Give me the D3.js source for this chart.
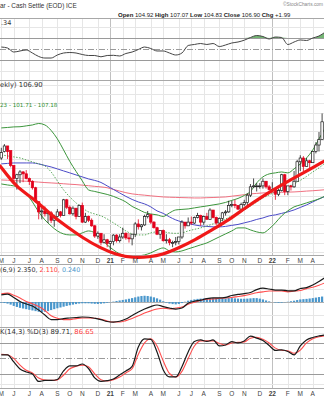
<!DOCTYPE html>
<html>
<head>
<meta charset="utf-8">
<script src="https://cdn.jsdelivr.net/npm/d3@7/dist/d3.min.js"></script>
<style>
html,body{margin:0;padding:0;background:#fff;overflow:hidden}
svg{display:block}
text{font-family:"Liberation Sans",Arial,sans-serif}
.lg{font-family:"DejaVu Sans",Verdana,sans-serif}
</style>
</head>
<body>
<svg id="chart" width="324" height="400"></svg>
<script>
// ---------------- DATA ----------------
const firstWeek = "2020-05-04";          // Monday of first weekly bar
const monthLetters = ["J","F","M","A","M","J","J","A","S","O","N","D"];
const sampleStep = 2;                    // indicator series are read every 2 weeks

const openP  = [99.1,99.8,100.4,99.9,98.3,96.9,97.3,97.6,97.4,96.9,96.6,95.9,94.4,93.3,93.4,93.1,93.2,92.4,92.8,93.3,92.9,94.6,93.8,93.1,93.7,92.8,94.0,92.2,92.8,92.4,91.8,90.7,91.0,90.0,90.3,89.9,90.1,90.8,90.2,90.6,91.0,90.5,90.4,90.9,92.0,91.7,91.9,92.8,93.0,92.2,91.6,90.9,91.3,90.2,90.3,90.0,90.0,90.1,90.6,92.2,91.8,92.2,92.1,92.7,92.9,92.2,92.8,92.5,93.5,92.7,92.1,92.6,93.2,93.3,94.0,94.1,94.0,93.6,94.1,94.3,95.1,96.0,96.1,96.1,96.1,96.6,96.0,95.7,95.7,95.2,95.6,97.3,95.5,96.1,96.0,96.6,98.7,99.1,98.2,98.8,98.6,99.8,100.5,101.1];
const highP  = [100.2,100.6,100.4,99.9,98.3,97.4,97.8,97.7,97.8,97.0,96.7,96.0,94.4,93.9,93.9,93.3,93.4,93.0,93.6,93.4,94.7,94.7,94.0,93.9,93.7,94.1,94.3,93.2,92.9,92.6,91.9,91.2,91.0,90.9,90.4,90.2,90.9,90.9,90.9,91.6,91.1,91.0,90.9,92.2,92.5,92.0,93.0,93.4,93.0,92.3,91.7,91.3,91.4,90.9,90.5,90.2,90.6,90.6,92.4,92.2,92.7,92.8,92.8,93.2,93.0,92.9,93.2,93.7,93.5,92.8,92.7,93.3,93.5,94.5,94.5,94.6,94.0,94.3,94.6,95.3,96.3,96.9,96.4,96.4,96.9,96.6,96.2,96.5,95.8,95.8,97.4,97.4,96.1,96.2,97.7,98.9,99.4,99.3,99.1,98.9,99.8,100.8,101.9,103.9];
const lowP   = [98.9,99.7,99.0,98.1,96.4,95.7,96.4,96.5,96.8,96.2,95.7,94.3,92.5,92.5,92.8,92.1,92.1,91.7,92.7,92.7,92.9,93.6,93.0,92.9,92.5,92.8,92.1,92.1,92.2,91.7,90.5,90.4,89.7,89.9,89.5,89.2,89.7,90.0,90.0,90.4,90.3,90.0,89.7,90.6,91.4,91.3,91.8,92.6,92.0,91.5,90.8,90.4,90.1,89.9,89.7,89.5,89.7,89.8,90.4,91.5,91.8,91.9,92.0,92.6,91.8,91.9,92.5,92.5,92.6,91.9,92.0,92.3,92.9,93.2,93.8,93.7,93.5,93.3,93.9,93.9,94.9,95.9,95.5,95.8,95.8,95.8,95.6,95.7,94.6,95.0,95.5,95.1,95.1,95.6,95.9,96.6,97.7,97.7,98.2,97.7,98.6,99.6,99.8,101.1];
const closeP = [99.7,100.4,99.8,98.3,96.9,97.3,97.6,97.4,96.9,96.6,95.9,94.4,93.3,93.4,93.1,93.2,92.4,92.8,93.3,92.9,94.6,93.8,93.1,93.7,92.8,94.0,92.2,92.8,92.4,91.8,90.7,91.0,90.0,90.3,89.9,90.1,90.8,90.2,90.6,91.0,90.5,90.4,90.9,92.0,91.7,91.9,92.8,93.0,92.2,91.6,90.9,91.3,90.2,90.3,90.0,90.0,90.1,90.6,92.2,91.8,92.2,92.1,92.7,92.9,92.2,92.8,92.5,93.5,92.7,92.1,92.6,93.2,93.3,94.0,94.1,94.0,93.6,94.1,94.3,95.1,96.0,96.1,96.1,96.1,96.6,96.0,95.7,95.7,95.2,95.6,97.3,95.5,96.1,96.0,96.6,98.7,99.1,98.2,98.8,98.6,99.8,100.5,101.1,103.0];

const bbUpper = [102.34,102.39,102.45,102.47,102.56,102.66,102.82,102.66,102.07,101.16,99.97,98.73,97.66,96.64,95.67,95.50,95.34,95.18,94.97,94.70,94.37,93.89,93.57,93.24,93.08,92.98,92.81,93.19,93.51,93.57,93.62,93.73,93.84,93.94,94.05,94.16,94.32,94.54,94.75,95.07,95.50,96.42,97.07,97.39,97.50,97.60,97.50,97.93,98.46,99.11,99.97,101.16,102.34];
const bbMid   = [99.43,99.33,99.22,99.11,98.89,98.68,98.47,98.25,97.60,96.63,95.67,94.91,94.27,93.73,93.30,93.08,92.87,92.54,92.12,91.69,91.25,90.93,90.82,90.82,91.04,91.15,91.15,91.04,90.99,91.04,91.25,91.42,91.58,91.79,92.01,92.28,92.54,92.87,93.19,93.51,93.94,94.37,94.80,95.13,95.45,95.77,96.04,96.31,96.69,97.12,97.60,98.04,98.57];
const bbLower = [96.31,96.20,96.10,95.88,95.24,94.37,93.30,92.44,91.79,91.25,90.93,90.82,90.82,91.04,91.25,91.04,90.39,89.75,89.21,88.78,88.56,88.45,88.56,88.67,88.89,89.21,89.42,89.10,88.99,89.10,89.32,89.53,89.75,89.96,90.28,90.61,90.93,91.25,91.58,91.58,91.36,91.15,91.04,91.47,92.12,92.87,93.41,93.84,94.05,94.27,94.48,94.70,95.02];
const maBlue  = [98.47,98.52,98.57,98.57,98.57,98.57,98.47,98.30,98.14,97.93,97.71,97.50,97.28,97.07,96.85,96.69,96.47,96.10,95.72,95.34,94.97,94.64,94.37,94.16,93.84,93.41,93.14,92.76,92.44,92.22,92.06,91.90,91.79,91.74,91.69,91.69,91.74,91.85,91.95,92.12,92.28,92.49,92.65,92.87,92.98,93.14,93.30,93.51,93.78,94.05,94.37,94.70,94.97];
const maPink  = [96.74,96.71,96.67,96.63,96.60,96.56,96.51,96.46,96.42,96.38,96.33,96.28,96.24,96.18,96.12,96.05,95.99,95.90,95.72,95.54,95.37,95.24,95.16,95.10,95.03,94.97,94.91,94.88,94.86,94.84,94.82,94.80,94.80,94.83,94.85,94.88,94.91,94.99,95.07,95.15,95.24,95.29,95.34,95.37,95.39,95.41,95.43,95.45,95.49,95.54,95.58,95.63,95.69];

// hand-drawn red "saucer" annotation (week number, price)
const arcWeek  = [-0.4,5.0,10.2,15.6,21.1,26.2,31.7,37.1,42.3,47.7,51.6,57.0,62.2,67.6,73.1,78.2,83.7,89.2,94.3,99.7,103.6];
const arcPrice = [98.25,95.88,94.80,93.08,91.69,90.50,89.42,88.67,88.35,88.45,88.67,89.42,90.28,91.36,92.44,93.70,94.95,96.05,97.00,98.00,98.75];

const rsiVals = [53.6,51.8,44.5,46.4,48.2,42.7,36.4,33.6,33.6,39.1,42.7,43.6,42.7,40.0,38.2,38.2,35.8,38.2,38.5,37.3,41.8,44.5,49.1,53.6,50.9,46.4,46.4,42.7,39.1,42.7,56.4,58.2,60.0,58.2,60.0,54.5,57.3,60.9,62.7,66.0,70.9,74.5,72.7,68.2,71.8,70.9,58.2,62.7,66.4,65.5,70.0,73.6,80.9];
const rsiLevels = [70,30];
const rsiMid = 50;

const macdLine   = [0.55,0.60,0.35,0.04,-0.15,-0.31,-0.62,-1.00,-1.35,-1.35,-1.27,-1.23,-1.19,-1.15,-1.17,-1.25,-1.35,-1.50,-1.54,-1.48,-1.31,-1.04,-0.77,-0.54,-0.35,-0.23,-0.35,-0.46,-0.54,-0.46,-0.09,0.06,0.14,0.26,0.31,0.31,0.35,0.50,0.58,0.64,0.73,0.95,1.06,1.00,0.92,0.92,0.86,0.85,1.04,1.11,1.31,1.58,1.88];
const macdSignal = [0.63,0.68,0.52,0.31,0.04,-0.14,-0.35,-0.65,-1.05,-1.25,-1.35,-1.35,-1.28,-1.23,-1.23,-1.25,-1.32,-1.46,-1.54,-1.54,-1.43,-1.26,-1.06,-0.85,-0.68,-0.54,-0.48,-0.53,-0.46,-0.38,-0.17,-0.02,0.12,0.22,0.23,0.29,0.31,0.35,0.42,0.49,0.60,0.71,0.78,0.85,0.85,0.85,0.78,0.84,0.89,1.03,1.13,1.29,1.48];
const macdHist   = [-0.05,-0.08,-0.12,-0.2,-0.3,-0.38,-0.45,-0.5,-0.55,-0.6,-0.65,-0.7,-0.75,-0.78,-0.75,-0.7,-0.62,-0.55,-0.48,-0.42,-0.36,-0.3,-0.25,-0.2,-0.16,-0.12,-0.1,-0.1,-0.1,-0.12,-0.14,-0.15,-0.13,-0.1,-0.06,-0.02,0.03,0.08,0.12,0.16,0.2,0.25,0.3,0.36,0.42,0.46,0.48,0.46,0.42,0.36,0.28,0.18,0.06,-0.05,-0.12,-0.16,-0.18,-0.15,-0.08,0.02,0.1,0.16,0.2,0.24,0.26,0.28,0.28,0.3,0.3,0.28,0.26,0.26,0.28,0.3,0.3,0.28,0.26,0.25,0.25,0.26,0.28,0.3,0.3,0.26,0.2,0.12,0.05,0.0,-0.04,-0.06,-0.05,-0.02,0.02,0.06,0.1,0.15,0.2,0.22,0.24,0.27,0.3,0.34,0.38,0.42];

const stoK = [56.8,56.8,43.2,29.7,23.9,20.0,5.5,7.4,7.4,9.3,25.8,35.5,35.5,39.3,30.6,12.3,5.5,7.0,10.3,18.1,25.8,34.5,72.2,87.7,86.8,62.6,27.7,14.2,14.2,34.1,62.6,82.9,85.8,82.9,85.8,74.2,76.1,82.5,80.0,83.9,93.2,89.3,84.6,75.1,65.5,66.4,63.5,56.8,74.2,85.8,90.6,93.5,95.5];
const stoD = [58,57,50,37,27,22,12,8,7.5,8.5,18,30,35,37,34,20,9,6.5,9,14,22,30,58,80,88,74,45,21,14,25,50,74,84,84,84,79,76,80,81,82,89,91,87,80,70,66,65,60,66,80,88,92,94];
const stoLevels = [80,20];
const stoMid = 50;

// ---------------- CHART ----------------
const svg = d3.select("#chart");
const n = closeP.length;
const parse = d3.timeParse("%Y-%m-%d");
const dates = d3.range(n).map(i => d3.timeMonday.offset(parse(firstWeek), i));

const x  = d3.scaleLinear().domain([0, n - 1]).range([1.3, 322.1]);
const panels = {rsi:{t:18,b:80}, main:{t:80,b:255}, macd:{t:264,b:327}, sto:{t:327,b:388}};
const yR = d3.scaleLinear().domain([0,100]).range([76.5,21.5]);
const yP = d3.scaleLinear().domain([88.66,107.5]).range([255,80]);
const yM = d3.scaleLinear().domain([-1.92,2.92]).range([327,264]);
const yS = d3.scaleLinear().domain([0,100]).range([384.3,332.6]);

svg.append("rect").attr("width",324).attr("height",400).attr("fill","#fff");
const defs = svg.append("defs");
Object.entries(panels).forEach(([k,p]) => {
  defs.append("clipPath").attr("id","clip-"+k).append("rect")
    .attr("x",0).attr("y",p.t).attr("width",324).attr("height",p.b-p.t);
});

const monthIdx = d3.range(n).filter(i => i===0 || dates[i].getMonth()!==dates[i-1].getMonth());
const isJan = i => dates[i].getMonth()===0;

// vertical month grid
Object.values(panels).forEach(p => {
  svg.append("g").selectAll("line").data(monthIdx).join("line")
    .attr("x1",i=>Math.round(x(i))+0.5).attr("x2",i=>Math.round(x(i))+0.5)
    .attr("y1",p.t).attr("y2",p.b)
    .attr("stroke",i=>isJan(i)?"#c0c0c0":"#e6e6e6").attr("stroke-width",1);
});
// horizontal grids
const hgrid = (vals, sc, col) => svg.append("g").selectAll("line").data(vals).join("line")
  .attr("x1",0).attr("x2",324).attr("y1",v=>Math.round(sc(v))+0.5).attr("y2",v=>Math.round(sc(v))+0.5)
  .attr("stroke",col).attr("stroke-width",1);
hgrid(d3.range(89,108), yP, "#e6e6e6");
hgrid([10,90], yR, "#e6e6e6");
hgrid([-1,1,2], yM, "#e6e6e6");
hgrid([0,100], yS, "#e6e6e6");
hgrid(rsiLevels, yR, "#9a9a9a");
hgrid(stoLevels, yS, "#9a9a9a");
hgrid([0], yM, "#b0b0b0");
[[rsiMid,yR],[stoMid,yS]].forEach(([v,sc]) => {
  svg.append("line").attr("x1",0).attr("x2",324).attr("y1",Math.round(sc(v))+0.5).attr("y2",Math.round(sc(v))+0.5)
    .attr("stroke","#9a9a9a").attr("stroke-dasharray","6,2,1,2");
});
// panel borders
[18,80,255,264,327,388].forEach(yy => svg.append("line").attr("x1",0).attr("x2",324)
  .attr("y1",yy+0.5).attr("y2",yy+0.5).attr("stroke","#a8a8a8"));

const sx = (d,k) => x(k*sampleStep);

// ---- RSI ----
const gR = svg.append("g").attr("clip-path","url(#clip-rsi)");
gR.append("path").datum(rsiVals)
  .attr("d", d3.area().x(sx).y0(yR(70)).y1(d=>yR(Math.max(d,70))).curve(d3.curveMonotoneX))
  .attr("fill","#5aa85a").attr("opacity",0.85);
gR.append("path").datum(rsiVals)
  .attr("d", d3.line().x(sx).y(d=>yR(d)).curve(d3.curveMonotoneX))
  .attr("fill","none").attr("stroke","#444").attr("stroke-width",1);

// ---- MAIN ----
const gM = svg.append("g").attr("clip-path","url(#clip-main)");
const lineP = d3.line().x(sx).y(d=>yP(d)).curve(d3.curveMonotoneX);
gM.append("path").datum(maPink).attr("d",lineP).attr("fill","none").attr("stroke","#f07080").attr("stroke-width",1);
gM.append("path").datum(maBlue).attr("d",lineP).attr("fill","none").attr("stroke","#4b4bc8").attr("stroke-width",1);
gM.append("path").datum(bbUpper).attr("d",lineP).attr("fill","none").attr("stroke","#3c963c").attr("stroke-width",1);
gM.append("path").datum(bbLower).attr("d",lineP).attr("fill","none").attr("stroke","#3c963c").attr("stroke-width",1);
gM.append("path").datum(bbMid).attr("d",lineP).attr("fill","none").attr("stroke","#4aa04a").attr("stroke-width",0.9).attr("stroke-dasharray","1.5,1.5");

const cd = d3.range(n).map(i => ({i, o:openP[i], h:highP[i], l:lowP[i], c:closeP[i]}));
const candleCol = d => d.c < d.o ? "#e3001b" : "#1a1a1a";
gM.append("g").selectAll("line").data(cd).join("line")
  .attr("x1",d=>x(d.i)).attr("x2",d=>x(d.i)).attr("y1",d=>yP(d.h)).attr("y2",d=>yP(d.l))
  .attr("stroke",candleCol).attr("stroke-width",0.8);
gM.append("g").selectAll("rect").data(cd).join("rect")
  .attr("x",d=>x(d.i)-1.2).attr("width",2.4)
  .attr("y",d=>yP(Math.max(d.o,d.c))).attr("height",d=>Math.max(0.8,Math.abs(yP(d.o)-yP(d.c))))
  .attr("fill",d=>d.c<d.o?"#e3001b":"#fff").attr("stroke",candleCol).attr("stroke-width",0.7);

// annotation arc
svg.append("path").datum(arcWeek.map((w,k)=>[w,arcPrice[k]]))
  .attr("d", d3.line().x(d=>x(d[0])).y(d=>yP(d[1])).curve(d3.curveBasis))
  .attr("fill","none").attr("stroke","#f01818").attr("stroke-width",3.2).attr("stroke-linecap","round");

// ---- MACD ----
const gD = svg.append("g").attr("clip-path","url(#clip-macd)");
gD.append("g").selectAll("rect").data(macdHist).join("rect")
  .attr("x",(d,i)=>x(i)-1.1).attr("width",2.2)
  .attr("y",d=>Math.min(yM(0),yM(d))).attr("height",d=>Math.abs(yM(d)-yM(0)))
  .attr("fill","#4a97cc");
const lineM = d3.line().x(sx).y(d=>yM(d)).curve(d3.curveMonotoneX);
gD.append("path").datum(macdSignal).attr("d",lineM).attr("fill","none").attr("stroke","#ff4d4d").attr("stroke-width",1.1);
gD.append("path").datum(macdLine).attr("d",lineM).attr("fill","none").attr("stroke","#1a1a1a").attr("stroke-width",1.2);

// ---- STO ----
const gS = svg.append("g").attr("clip-path","url(#clip-sto)");
const lineS = d3.line().x(sx).y(d=>yS(d)).curve(d3.curveMonotoneX);
gS.append("path").datum(stoD).attr("d",lineS).attr("fill","none").attr("stroke","#ff4d4d").attr("stroke-width",1.1);
gS.append("path").datum(stoK).attr("d",lineS).attr("fill","none").attr("stroke","#1a1a1a").attr("stroke-width",1.2);

// ---- date labels ----
[263, 395.5].forEach(yy => {
  svg.append("g").selectAll("text").data(monthIdx).join("text")
    .attr("x",i=>x(i)).attr("y",yy).attr("text-anchor","middle")
    .attr("font-size",6.5).attr("fill","#444").attr("font-weight",i=>isJan(i)?"bold":"normal")
    .text(i=>isJan(i)?d3.timeFormat("%y")(dates[i]):monthLetters[dates[i].getMonth()]);
});

// ---- texts ----
svg.append("text").attr("x",0).attr("y",8).attr("font-size",6.4).attr("fill","#333").text("ar - Cash Settle (EOD) ICE");
svg.append("text").attr("x",323).attr("y",6).attr("text-anchor","end").attr("font-size",4.8).attr("fill","#888").text("\u00A9StockCharts.com");
const ohlc = svg.append("text").attr("x",118).attr("y",16.5).attr("font-size",6).attr("fill","#222");
[["Open",true],[" 104.92 ",false],["High",true],[" 107.07 ",false],["Low",true],[" 104.83 ",false],["Close",true],[" 106.90 ",false],["Chg",true],[" +1.99",false]]
  .forEach(([t,b]) => ohlc.append("tspan").attr("font-weight",b?"bold":"normal").text(t));
svg.append("text").attr("x",1).attr("y",25).attr("font-size",6.5).attr("fill","#333").attr("class","lg").text(".34");
svg.append("text").attr("x",0).attr("y",86.5).attr("font-size",6.8).attr("fill","#333").attr("class","lg").text("ekly) 106.90");
svg.append("text").attr("x",0).attr("y",107).attr("font-size",5.6).attr("fill","#2f8f2f").attr("class","lg").text("23 - 101.71 - 107.18");
const mt = svg.append("text").attr("x",0).attr("y",271.5).attr("font-size",6.4).attr("class","lg");
mt.append("tspan").attr("fill","#333").text("(6,9) 2.350, ");
mt.append("tspan").attr("fill","#ff3b3b").text("2.110, ");
mt.append("tspan").attr("fill","#4a97cc").text("0.240");
const st = svg.append("text").attr("x",0).attr("y",334).attr("font-size",6.8).attr("class","lg");
st.append("tspan").attr("fill","#333").text("K(14,3) %D(3) 89.71, ");
st.append("tspan").attr("fill","#ff3b3b").text("86.65");
</script>
</body>
</html>
